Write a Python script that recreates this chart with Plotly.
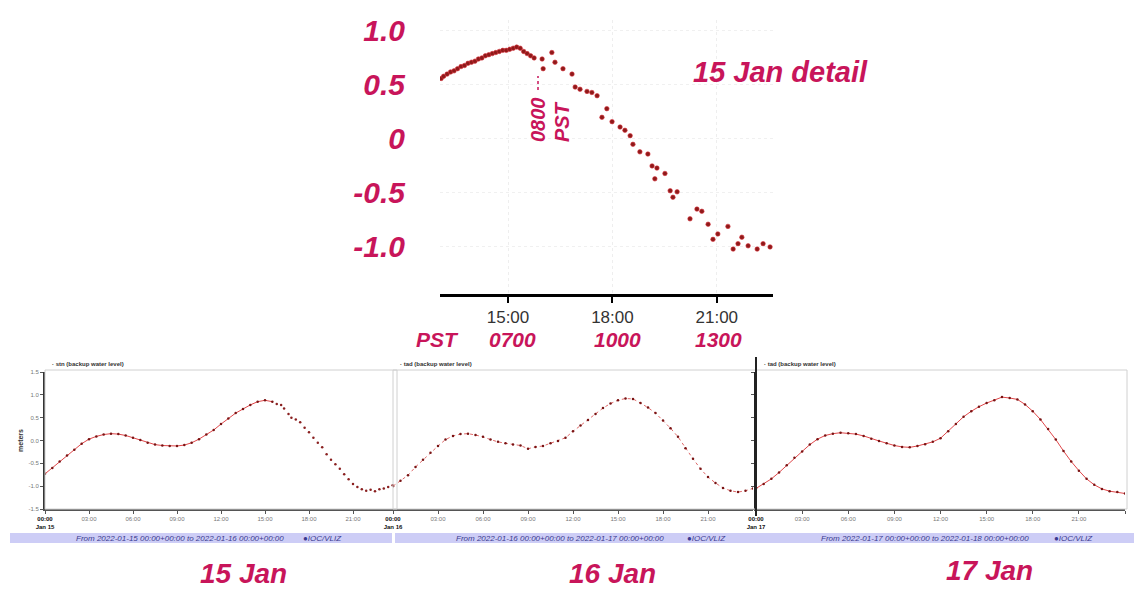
import plotly.graph_objects as go

W, H = 1134, 590
MAG = "#c8155a"
FONT = "Arial, Liberation Sans, sans-serif"

# ---------------- data ----------------
# 15 Jan detail (UTC hours, metres)
top_hours = [13.08, 13.15, 13.25, 13.35, 13.45, 13.55, 13.65, 13.75, 13.85, 13.95,
             14.05, 14.15, 14.25, 14.35, 14.45, 14.55, 14.65, 14.75, 14.85, 14.95,
             15.05, 15.15, 15.25, 15.35, 15.45, 15.55, 15.65, 15.75,
             15.98, 16.01, 16.26, 16.35, 16.58, 16.84, 16.93, 17.07, 17.27, 17.41,
             17.56, 17.70, 17.84, 17.99, 18.22, 18.36, 18.51, 18.59, 18.79, 19.02,
             19.14, 19.22, 19.28, 19.51, 19.66, 19.74, 19.86, 20.23, 20.43, 20.57,
             20.75, 20.89, 21.03, 21.32, 21.47, 21.61, 21.72, 21.90, 22.16, 22.33, 22.53]
top_values = [0.56, 0.58, 0.60, 0.62, 0.63, 0.65, 0.67, 0.68, 0.70, 0.71,
              0.72, 0.74, 0.75, 0.77, 0.78, 0.79, 0.80, 0.81, 0.82, 0.82,
              0.83, 0.84, 0.85, 0.84, 0.81, 0.79, 0.77, 0.75,
              0.74, 0.65, 0.80, 0.71, 0.65, 0.60, 0.48, 0.46, 0.44, 0.43,
              0.40, 0.20, 0.28, 0.16, 0.11, 0.08, 0.03, -0.05, -0.12, -0.14,
              -0.25, -0.37, -0.27, -0.32, -0.48, -0.54, -0.49, -0.74, -0.65, -0.67,
              -0.79, -0.93, -0.88, -0.81, -1.02, -0.97, -0.91, -0.99, -1.02, -0.97, -1.00]
top_ticks = [15, 18, 21]
top_ticklabels = ["15:00", "18:00", "21:00"]
top_yticks = [1.0, 0.5, 0.0, -0.5, -1.0]
top_yticklabels = ["1.0", "0.5", "0", "-0.5", "-1.0"]
pst_labels = ["PST", "0700", "1000", "1300"]

# 15 Jan full day
p1_hours_a = [0.0, 0.5, 1.0, 1.5, 2.0, 2.5, 3.0, 3.5, 4.0, 4.5, 5.0, 5.5, 6.0, 6.5, 7.0, 7.5,
              8.0, 8.5, 9.0, 9.5, 10.0, 10.5, 11.0, 11.5, 12.0, 12.5, 13.0, 13.5, 14.0,
              14.5, 15.0, 15.5]
p1_values_a = [-0.73, -0.60, -0.46, -0.33, -0.20, -0.07, 0.03, 0.09, 0.13, 0.15, 0.14,
               0.11, 0.06, 0.01, -0.05, -0.09, -0.11, -0.12, -0.12, -0.10, -0.05, 0.03,
               0.13, 0.23, 0.36, 0.48, 0.60, 0.69, 0.78, 0.85, 0.88, 0.85]
p1_hours_b = [15.8, 16.1, 16.3, 16.6, 16.8, 17.1, 17.4, 17.7, 18.0, 18.3, 18.6, 18.9, 19.2,
              19.5, 19.8, 20.1, 20.4, 20.7, 21.0, 21.3, 21.6, 21.9, 22.2, 22.5, 22.8, 23.1,
              23.4, 23.7]
p1_values_b = [0.80, 0.78, 0.70, 0.58, 0.50, 0.46, 0.40, 0.28, 0.18, 0.06, -0.05, -0.15,
               -0.30, -0.42, -0.52, -0.62, -0.74, -0.85, -0.95, -1.02, -1.07, -1.10, -1.08,
               -1.11, -1.07, -1.05, -1.02, -0.98]

# 16 Jan
p2_hours = [0.0, 0.5, 1.0, 1.5, 2.0, 2.5, 3.0, 3.5, 4.0, 4.5, 5.0, 5.5, 6.0, 6.5, 7.0, 7.5,
            8.0, 8.5, 9.0, 9.5, 10.0, 10.5, 11.0, 11.5, 12.0, 12.5, 13.0, 13.5, 14.0, 14.5,
            15.0, 15.5, 16.0, 16.5, 17.0, 17.5, 18.0, 18.5, 19.0, 19.5, 20.0, 20.5, 21.0,
            21.5, 22.0, 22.5, 23.0, 23.5, 24.0]
p2_values = [-1.00, -0.88, -0.76, -0.58, -0.42, -0.27, -0.12, 0.02, 0.10, 0.14, 0.15, 0.12,
             0.08, 0.02, -0.03, -0.06, -0.09, -0.11, -0.18, -0.14, -0.12, -0.06, -0.01, 0.06,
             0.20, 0.33, 0.45, 0.58, 0.71, 0.81, 0.88, 0.92, 0.91, 0.82, 0.72, 0.60, 0.44,
             0.27, 0.08, -0.17, -0.40, -0.62, -0.80, -0.93, -1.04, -1.10, -1.13, -1.10, -1.05]

# 17 Jan
p3_hours = p2_hours
p3_values = [-1.05, -0.95, -0.84, -0.70, -0.54, -0.38, -0.24, -0.09, 0.03, 0.11, 0.15, 0.17,
             0.16, 0.14, 0.10, 0.04, -0.01, -0.06, -0.11, -0.14, -0.15, -0.12, -0.08, -0.03,
             0.05, 0.20, 0.36, 0.52, 0.64, 0.74, 0.82, 0.88, 0.95, 0.93, 0.90, 0.79, 0.64,
             0.46, 0.25, 0.02, -0.23, -0.46, -0.66, -0.84, -0.97, -1.06, -1.11, -1.13, -1.16]

panel_ticks = [0, 3, 6, 9, 12, 15, 18, 21, 24]
panel_mid_labels = ["03:00", "06:00", "09:00", "12:00", "15:00", "18:00", "21:00"]
panel_yticks = [1.5, 1.0, 0.5, 0.0, -0.5, -1.0, -1.5]
panel_days = ["Jan 15", "Jan 16", "Jan 17", "Jan 18"]
panel_titles = ["stn (backup water level)", "tad (backup water level)", "tad (backup water level)"]
range_texts = ["From 2022-01-15 00:00+00:00 to 2022-01-16 00:00+00:00",
               "From 2022-01-16 00:00+00:00 to 2022-01-17 00:00+00:00",
               "From 2022-01-17 00:00+00:00 to 2022-01-18 00:00+00:00"]
day_labels = ["15 Jan", "16 Jan", "17 Jan"]


def px(x):
    return x / W


def py(y):
    return 1 - y / H


def bold_tick(day):
    return "<b><span style='color:#111'>00:00<br>" + day + "</span></b>"


fig = go.Figure()

# top detail
fig.add_trace(go.Scatter(x=top_hours, y=top_values, mode="markers",
                         marker=dict(size=4.5, color="#8e1a1a",
                                     line=dict(width=0.6, color="#d8303a")),
                         xaxis="x", yaxis="y", showlegend=False))

# bottom panels
line_style = dict(width=1, color="#e0474a")
mk = dict(size=2.5, color="#7a1414")
fig.add_trace(go.Scatter(x=p1_hours_a, y=p1_values_a, mode="lines+markers", line=line_style,
                         marker=mk, xaxis="x2", yaxis="y2", showlegend=False))
fig.add_trace(go.Scatter(x=p1_hours_b, y=p1_values_b, mode="markers",
                         marker=dict(size=2.5, color="#8a2020"), xaxis="x2", yaxis="y2",
                         showlegend=False))
fig.add_trace(go.Scatter(x=p2_hours, y=p2_values, mode="lines+markers",
                         line=dict(width=1, color="#e06a6a", dash="dot"),
                         marker=mk, xaxis="x3", yaxis="y3", showlegend=False))
fig.add_trace(go.Scatter(x=p3_hours, y=p3_values, mode="lines+markers", line=line_style,
                         marker=mk, xaxis="x4", yaxis="y4", showlegend=False))

ydom_top = [py(294), py(20)]
ydom_bot = [py(509), py(372)]

tiny = dict(size=6, color="#777", family=FONT)

layout = dict(
    width=W, height=H, margin=dict(l=0, r=0, t=0, b=0, autoexpand=False),
    paper_bgcolor="white", plot_bgcolor="rgba(0,0,0,0)",
    font=dict(family=FONT),
    xaxis=dict(domain=[px(440), px(773)], range=[13.046, 22.615], anchor="y",
               automargin=False,
               tickvals=top_ticks, ticktext=top_ticklabels,
               tickfont=dict(size=17, color="#333", family=FONT),
               showline=True, linewidth=3, linecolor="black",
               ticks="outside", ticklen=6, tickwidth=2, tickcolor="black",
               showgrid=True, gridcolor="#eeeeee", griddash="dot", zeroline=False),
    yaxis=dict(domain=ydom_top, range=[-1.436, 1.101], anchor="x", automargin=False,
               tickvals=top_yticks, ticktext=top_yticklabels,
               tickfont=dict(size=30, color=MAG, family=FONT, weight="bold", style="italic"),
               ticks="outside", ticklen=28, tickcolor="rgba(0,0,0,0)",
               showline=False, showgrid=True, gridcolor="#f0f0f0", griddash="dot",
               zeroline=False),
)

panel_x = [(45, 397), (393, 753), (756, 1125)]
for i, (x0, x1) in enumerate(panel_x):
    n = i + 2
    if i < 2:
        tv = panel_ticks[:-1]
        tt = [bold_tick(panel_days[i])] + panel_mid_labels
    else:
        tv = panel_ticks
        tt = [bold_tick(panel_days[i])] + panel_mid_labels + [bold_tick(panel_days[i + 1])]
    layout["xaxis%d" % n] = dict(domain=[px(x0), px(x1)], range=[0, 24], anchor="y%d" % n,
                                 automargin=False,
                                 tickvals=tv, ticktext=tt, tickfont=tiny,
                                 showline=True, linewidth=1.5, linecolor="#555",
                                 ticks="outside", ticklen=3, tickcolor="#555",
                                 showgrid=False, zeroline=False)
    ya = dict(domain=ydom_bot, range=[-1.5, 1.5], anchor="x%d" % n, automargin=False,
              showgrid=False, zeroline=False)
    if i == 0:
        ya.update(tickvals=panel_yticks, ticktext=["%.1f" % v for v in panel_yticks],
                  tickfont=tiny, showline=True, linewidth=2, linecolor="#333",
                  ticks="outside", ticklen=3, tickcolor="#555",
                  title=dict(text="<b>meters</b>", font=dict(size=7, color="#333"),
                             standoff=4))
    elif i == 2:
        ya.update(showticklabels=False, showline=True, linewidth=2, linecolor="#222",
                  ticks="outside", ticklen=3, tickvals=panel_yticks, tickcolor="#555")
    else:
        ya.update(visible=False)
    layout["yaxis%d" % n] = ya

fig.update_layout(**layout)

shapes = []
# panel frames
for (x0, x1) in [(45, 397), (393, 756), (756, 1127)]:
    shapes.append(dict(type="rect", xref="paper", yref="paper", x0=px(x0), x1=px(x1),
                       y0=py(509), y1=py(370), line=dict(color="#d0d0d0", width=1)))
shapes.append(dict(type="line", xref="paper", yref="paper", x0=px(756), x1=px(756),
                   y0=py(516), y1=py(357), line=dict(color="#222", width=2)))
# blue range bars
for (x0, x1) in [(10, 392), (395, 758), (758, 1134)]:
    shapes.append(dict(type="rect", xref="paper", yref="paper", x0=px(x0), x1=px(x1),
                       y0=py(543), y1=py(533), fillcolor="#cdcdf6", line=dict(width=0),
                       layer="below"))
# little pointer dash above "0800"
shapes.append(dict(type="line", xref="paper", yref="paper", x0=px(538), x1=px(538),
                   y0=py(90), y1=py(76), line=dict(color=MAG, width=1.5, dash="dot")))
fig.update_layout(shapes=shapes)


def note(text, x, y, font, angle=0, xanchor="center"):
    return dict(text=text, x=px(x), y=py(y), xref="paper", yref="paper", showarrow=False,
                xanchor=xanchor, yanchor="middle", textangle=angle, font=font)


ann = []
bigfont = dict(size=29, color=MAG, family=FONT, weight="bold", style="italic")
dayfont = dict(size=28, color=MAG, family=FONT, weight="bold", style="italic")
midfont = dict(size=20, color=MAG, family=FONT, weight="bold", style="italic")
ann.append(note("15 Jan detail", 780, 72, bigfont))
ann.append(note("0800", 538, 120, midfont, angle=-90))
ann.append(note("PST", 562, 122, midfont, angle=-90))
for lab, xc in zip(pst_labels, [437, 512, 617, 718]):
    ann.append(note(lab, xc, 339, dict(size=21, color=MAG, family=FONT, weight="bold",
                                       style="italic")))
for lab, xc, yc in zip(day_labels, [243, 612, 989], [573, 573, 570]):
    ann.append(note(lab, xc, yc, dayfont))
for t, x0 in zip(panel_titles, [50, 398, 762]):
    ann.append(note("<b>· " + t + "</b>", x0, 364, dict(size=6, color="#333", family=FONT),
                    xanchor="left"))
for t, xc, xl in zip(range_texts, [180, 560, 925], [322, 706, 1073]):
    ann.append(note("<i>" + t + "</i>", xc, 538, dict(size=8, color="#3a3a90", family=FONT)))
    ann.append(note("<i>●IOC/VLIZ</i>", xl, 538, dict(size=8, color="#3a3a90", family=FONT)))
fig.update_layout(annotations=ann)

fig.write_html("out.html")
